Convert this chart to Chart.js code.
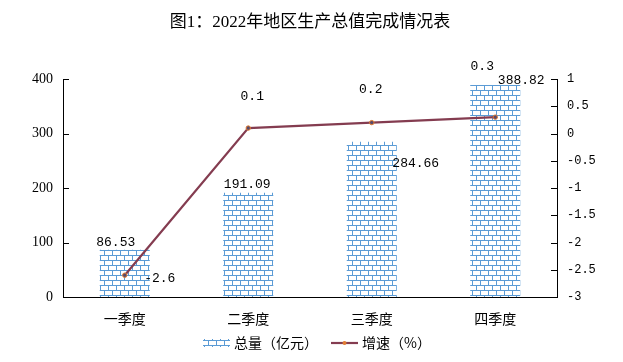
<!DOCTYPE html>
<html><head><meta charset="utf-8">
<script src="https://cdn.jsdelivr.net/npm/chart.js@4/dist/chart.umd.min.js"></script>
<style>html,body{margin:0;padding:0;background:#fff}#wrap{width:623px;height:362px}</style>
</head><body><div id="wrap"><canvas id="c" width="623" height="362"></canvas></div>
<script>
const categories = ['一季度', '二季度', '三季度', '四季度'];
const totalValues = [86.53, 191.09, 284.66, 388.82];
const growthValues = [-2.6, 0.1, 0.2, 0.3];
const seriesNames = ['总量（亿元）', '增速（%）'];
const chartTitle = '图1：2022年地区生产总值完成情况表';

const BLUE = '#5B9BD5', MAROON = '#843C50', ORANGE = '#E27D32';

function makePattern(){
  const pc = document.createElement('canvas'); pc.width = 8; pc.height = 10;
  const g = pc.getContext('2d');
  g.fillStyle = '#fff'; g.fillRect(0,0,8,10);
  g.strokeStyle = BLUE; g.lineWidth = 1;
  g.beginPath();
  g.moveTo(0,0.5); g.lineTo(8,0.5);
  g.moveTo(0,5.5); g.lineTo(8,5.5);
  g.moveTo(0.5,0); g.lineTo(0.5,5);
  g.moveTo(4.5,5); g.lineTo(4.5,10);
  g.stroke();
  return document.getElementById('c').getContext('2d').createPattern(pc,'repeat');
}
const pattern = makePattern();

// label offsets (px) relative to mark anchor
const barLabelOffsets = [[-9,-7],[-1,-8],[44,22],[26,-5]];
const lineLabelOffsets = [[35,3],[4,-31],[-1,-33],[-13,-51]];

const extras = {
  id: 'extras',
  afterDraw(chart){
    const ctx = chart.ctx, ca = chart.chartArea;
    ctx.save();
    ctx.fillStyle = '#000';
    ctx.font = '17px "Liberation Serif", "Noto Sans CJK SC"';
    ctx.textAlign = 'center'; ctx.textBaseline = 'middle';
    ctx.fillText(chartTitle, 310, 23);
    ctx.strokeStyle = '#000'; ctx.lineWidth = 1;
    const yl = chart.scales.y, yr = chart.scales.y1;
    ctx.beginPath();
    yl.ticks.forEach(t => { const p = Math.round(yl.getPixelForValue(t.value)) + 0.5; ctx.moveTo(ca.left, p); ctx.lineTo(ca.left + 6, p); });
    yr.ticks.forEach(t => { const p = Math.round(yr.getPixelForValue(t.value)) + 0.5; ctx.moveTo(ca.right, p); ctx.lineTo(ca.right - 6, p); });
    ctx.stroke();
    ctx.font = '13px "Liberation Mono", monospace';
    ctx.fillStyle = '#000';
    const barMeta = chart.getDatasetMeta(0), lineMeta = chart.getDatasetMeta(1);
    barMeta.data.forEach((el, i) => {
      const o = barLabelOffsets[i];
      ctx.fillText(totalValues[i].toFixed(2), el.x + o[0], el.y + o[1]);
    });
    lineMeta.data.forEach((el, i) => {
      const o = lineLabelOffsets[i];
      ctx.fillText(String(growthValues[i]), el.x + o[0], el.y + o[1]);
    });
    const ly = 343;
    ctx.fillStyle = pattern;
    ctx.fillRect(203, ly - 4, 27, 8);
    ctx.font = '14px "Noto Sans CJK SC"';
    ctx.fillStyle = '#000'; ctx.textAlign = 'left';
    ctx.fillText(seriesNames[0], 234, ly);
    ctx.strokeStyle = MAROON; ctx.lineWidth = 2.2;
    ctx.beginPath(); ctx.moveTo(331, ly); ctx.lineTo(358, ly); ctx.stroke();
    ctx.beginPath(); ctx.arc(344.5, ly, 2, 0, Math.PI*2);
    ctx.fillStyle = ORANGE; ctx.fill();
    ctx.fillStyle = '#000';
    ctx.fillText(seriesNames[1], 362, ly);
    ctx.restore();
  }
};

new Chart(document.getElementById('c'), {
  data: {
    labels: categories,
    datasets: [
      { type: 'bar', label: seriesNames[0], data: totalValues, yAxisID: 'y',
        backgroundColor: pattern, borderWidth: 0, barPercentage: 0.405, categoryPercentage: 1, order: 2 },
      { type: 'line', label: seriesNames[1], data: growthValues, yAxisID: 'y1',
        borderColor: MAROON, borderWidth: 2.2, pointRadius: 2.2, pointBackgroundColor: '#5A4A6A',
        pointBorderColor: ORANGE, pointBorderWidth: 1, tension: 0, order: 1 }
    ]
  },
  options: {
    responsive: false, animation: false, devicePixelRatio: 1,
    layout: { padding: { top: 79, bottom: 30, left: 0, right: 0 } },
    plugins: { legend: { display: false }, title: { display: false }, tooltip: { enabled: false } },
    scales: {
      x: {
        grid: { display: false, drawTicks: false },
        border: { display: true, color: '#000', width: 1 },
        ticks: { padding: 13, color: '#000', font: { family: '"Noto Sans CJK SC"', size: 14 } },
        afterFit(s){ s.height = 35; }
      },
      y: {
        position: 'left', min: 0, max: 400,
        grid: { display: false, drawTicks: false },
        border: { display: true, color: '#000', width: 1 },
        ticks: { stepSize: 100, padding: 10, color: '#000', font: { family: '"Liberation Serif"', size: 14 } },
        afterFit(s){ s.width = 63; }
      },
      y1: {
        position: 'right', min: -3, max: 1,
        grid: { display: false, drawTicks: false },
        border: { display: true, color: '#000', width: 1 },
        ticks: { stepSize: 0.5, padding: 10, color: '#000', font: { family: '"Liberation Mono"', size: 12 },
          callback: v => String(Math.round(v * 10) / 10) },
        afterFit(s){ s.width = 66; }
      }
    }
  },
  plugins: [extras]
});
</script>
</body></html>
